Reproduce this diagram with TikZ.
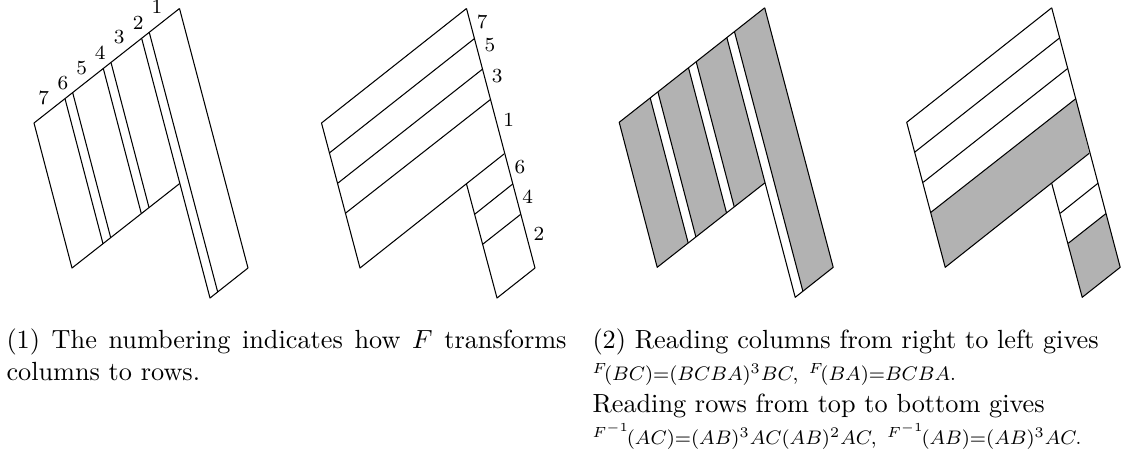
\RequirePackage{fix-cm}
\documentclass[tikz,border=0pt]{standalone}
\begin{document}
\begin{tikzpicture}[x=0.4pt,y=-0.4pt,line width=0.42pt,
  edge/.style={draw=black,line join=round},
  shade/.style={fill=black!30,line join=round},
  num/.style={inner sep=0pt,font=\fontsize{8}{10}\selectfont},
  capt/.style={inner sep=0pt,anchor=north west,font=\fontsize{10.5}{12.8}\selectfont}]
\useasboundingbox (0,0) rectangle (1125,455);
% Panel 1
\draw[edge] (179.5,8.5) -- (34,123) -- (72,268) -- (179.7,183.5);
\draw[edge] (179.5,8.5) -- (248,268) -- (210,298) -- (141.7,38.5);
\draw[edge] (65,98.7) -- (103,243.7);
\draw[edge] (72.7,92.7) -- (110.7,237.7);
\draw[edge] (103.3,68.5) -- (141.3,213.5);
\draw[edge] (111,62.5) -- (149,207.5);
\draw[edge] (149.3,32.5) -- (217.7,292);
\node[num] (n7) at (43.7,98.3) {7};
\node[num] (n6) at (63,83.3) {6};
\node[num] (n5) at (81.7,68.3) {5};
\node[num] (n4) at (100.3,52.3) {4};
\node[num] (n3) at (119.3,37) {3};
\node[num] (n2) at (138.3,22.7) {2};
\node[num] (n1) at (157,7.2) {1};
% Panel 2
\draw[edge] (466.5,8.5) -- (321.5,123) -- (360,268) -- (504,154);
\draw[edge] (466.5,8.5) -- (535,268) -- (497,298) -- (466.5,184);
\draw[edge] (474.3,38.7) -- (329.3,153);
\draw[edge] (482.7,69) -- (338,183);
\draw[edge] (490.7,99.3) -- (345.7,213);
\draw[edge] (512.7,184) -- (475,214);
\draw[edge] (520.7,214.3) -- (483,244);
\node[num] (m7) at (482.3,22.3) {7};
\node[num] (m5) at (490,45) {5};
\node[num] (m3) at (497.3,75.7) {3};
\node[num] (m1) at (508.7,120) {1};
\node[num] (m6) at (520,166.7) {6};
\node[num] (m4) at (527.7,196.7) {4};
\node[num] (m2) at (539,234.3) {2};
% Panel 3
\begin{scope}[shift={(585.2,-0.7)}]
\fill[shade] (34,123) -- (65,98.7) -- (103,243.7) -- (72,268) -- cycle;
\fill[shade] (72.7,92.7) -- (103.3,68.5) -- (141.3,213.5) -- (110.7,237.7) -- cycle;
\fill[shade] (111,62.5) -- (141.7,38.5) -- (179.7,183.5) -- (149,207.5) -- cycle;
\fill[shade] (149.3,32.5) -- (179.5,8.5) -- (248,268) -- (217.7,292) -- cycle;
\draw[edge] (179.5,8.5) -- (34,123) -- (72,268) -- (179.7,183.5);
\draw[edge] (179.5,8.5) -- (248,268) -- (210,298) -- (141.7,38.5);
\draw[edge] (65,98.7) -- (103,243.7);
\draw[edge] (72.7,92.7) -- (110.7,237.7);
\draw[edge] (103.3,68.5) -- (141.3,213.5);
\draw[edge] (111,62.5) -- (149,207.5);
\draw[edge] (149.3,32.5) -- (217.7,292);
\end{scope}
% Panel 4
\begin{scope}[shift={(585.2,-0.7)}]
\fill[shade] (490.7,99.3) -- (345.7,213) -- (360,268) -- (504,154) -- cycle;
\fill[shade] (520.7,214.3) -- (483,244) -- (497,298) -- (535,268) -- cycle;
\draw[edge] (466.5,8.5) -- (321.5,123) -- (360,268) -- (504,154);
\draw[edge] (466.5,8.5) -- (535,268) -- (497,298) -- (466.5,184);
\draw[edge] (474.3,38.7) -- (329.3,153);
\draw[edge] (482.7,69) -- (338,183);
\draw[edge] (490.7,99.3) -- (345.7,213);
\draw[edge] (512.7,184) -- (475,214);
\draw[edge] (520.7,214.3) -- (483,244);
\end{scope}
% Captions
\node[capt,text width=224pt,align=justify] (cap1) at (6,328.5) {(1) The numbering indicates how $F$ transforms columns to rows.};
\node[capt,align=left] (cap2) at (592,328.5) {(2) Reading columns from right to left gives\\
\scalebox{0.98}{\fontsize{8}{10}\selectfont$^{F}\!(BC){=}(BCBA)^3BC,\ {}^{F}\!(BA){=}BCBA.$}\\
Reading rows from top to bottom gives\\
\scalebox{0.98}{\fontsize{8}{10}\selectfont$^{F^{-1}}\!(AC){=}(AB)^3AC(AB)^2AC,\ {}^{F^{-1}}\!(AB){=}(AB)^3AC.$}};
\end{tikzpicture}
\end{document}
